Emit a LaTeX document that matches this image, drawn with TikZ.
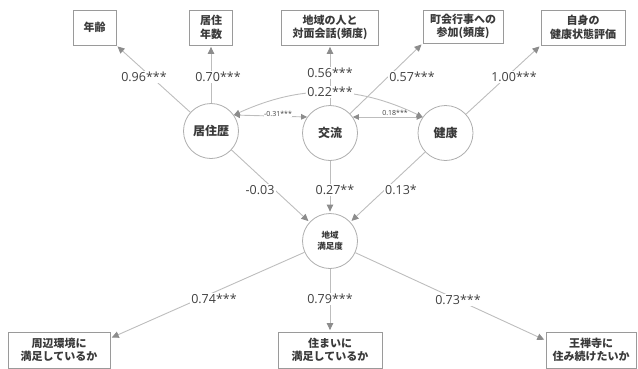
\documentclass[tikz,border=0pt]{standalone}
\usepackage{fontspec}
\setmainfont{Open Sans}
\newfontfamily\jp{Noto Sans CJK JP}
\usetikzlibrary{arrows.meta}
\definecolor{boxgray}{HTML}{9A9A9A}
\definecolor{linegray}{HTML}{BDBDBD}
\definecolor{tipgray}{HTML}{8C8C8C}
\definecolor{txt}{HTML}{3A3A3A}
\definecolor{numc}{HTML}{404040}
\tikzset{
  obsbox/.style={draw=boxgray, line width=0.8pt, fill=white, minimum height=35pt, inner sep=0pt,
    align=center, text=txt, font=\jp\bfseries\fontsize{11}{13.5}\selectfont},
  latent/.style={circle, draw=boxgray!80, line width=0.8pt, fill=white, minimum size=55pt, inner sep=0pt,
    align=center, text=txt, font=\jp\bfseries\fontsize{12}{14}\selectfont},
  numlab/.style={fill=white, inner sep=1.2pt, text=numc, font=\fontsize{12.5}{14}\selectfont},
  smalllab/.style={fill=white, inner sep=0.6pt, text=numc, font=\fontsize{7}{8}\selectfont},
  conn/.style={draw=linegray, line width=0.9pt, shorten >=1.5pt,
    -{Triangle[length=7pt,width=6.5pt,color=tipgray]}},
  covar/.style={draw=linegray, line width=0.9pt,
    {Triangle[length=6pt,width=5.5pt,color=tipgray]}-{Triangle[length=6pt,width=5.5pt,color=tipgray]}},
}
\begin{document}
\begin{tikzpicture}[x=1pt,y=1pt]
\useasboundingbox (0,0) rectangle (638,-368);
% observed top
\node[obsbox, minimum width=43pt] (a1) at (94.5,-27.5) {年齢};
\node[obsbox, minimum width=43pt] (a2) at (211,-27.5) {居住\\年数};
\node[obsbox, minimum width=97pt] (a3) at (330,-27.5) {地域の人と\\対面会話(頻度)};
\node[obsbox, minimum width=80pt, minimum height=33pt] (a4) at (463,-26.5) {町会行事への\\参加(頻度)};
\node[obsbox, minimum width=84pt] (a5) at (583,-27.5) {自身の\\健康状態評価};
% latent
\node[latent] (L1) at (211,-131) {居住歴};
\node[latent] (L2) at (330,-133) {交流};
\node[latent] (L3) at (445.5,-133) {健康};
\node[latent, font=\jp\bfseries\fontsize{8.5}{11}\selectfont] (S) at (330,-241) {地域\\満足度};
% observed bottom
\node[obsbox, minimum width=102pt, minimum height=36pt] (b1) at (59,-350) {周辺環境に\\満足しているか};
\node[obsbox, minimum width=104pt, minimum height=36pt] (b2) at (330,-350) {住まいに\\満足しているか};
\node[obsbox, minimum width=90pt, minimum height=36pt] (b3) at (591,-350) {王禅寺に\\住み続けたいか};
% connectors
\draw[conn] (L1) -- (a1.south east);
\draw[conn] (L1) -- (a2);
\draw[conn] (L2) -- (a3);
\draw[conn] (L2) -- (a4.south west);
\draw[conn] (L3) -- (a5.south west);
\draw[covar] (L1.35) -- (L2.145);
\draw[covar] (L2.35) -- (L3.145);
\draw[covar] (L1.35) to[bend left=25] (L3.145);
\draw[conn] (L1) -- (S);
\draw[conn] (L2) -- (S);
\draw[conn] (L3) -- (S);
\draw[conn] (S) -- (b1.13);
\draw[conn] (S) -- (b2);
\draw[conn] (S) -- (b3.168);
% labels
\node[numlab] (l1) at (144,-77) {0.96***};
\node[numlab] (l2) at (218,-77) {0.70***};
\node[numlab] (l3) at (330,-73) {0.56***};
\node[numlab] (l4) at (330,-92) {0.22***};
\node[numlab] (l5) at (412,-77) {0.57***};
\node[numlab] (l6) at (514,-77) {1.00***};
\node[smalllab] (l7) at (278,-114) {-0.31***};
\node[smalllab] (l8) at (395,-113) {0.18***};
\node[numlab] (l9) at (260,-190) {-0.03};
\node[numlab] (l10) at (335,-190) {0.27**};
\node[numlab] (l11) at (401,-190) {0.13*};
\node[numlab] (l12) at (214,-299) {0.74***};
\node[numlab] (l13) at (330,-299) {0.79***};
\node[numlab] (l14) at (458,-300) {0.73***};
\end{tikzpicture}
\end{document}
